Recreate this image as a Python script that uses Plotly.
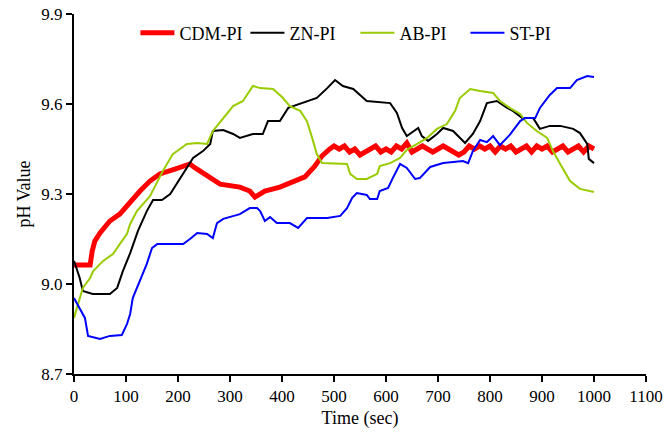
import plotly.graph_objects as go

# CDM-PI (red)
cdm_t = [0, 31, 35, 40, 50, 69, 88, 98, 113, 127, 146, 165, 194, 223, 233, 242, 262, 281, 319, 338, 348, 367, 396, 425, 444, 463, 477, 492,
         500, 510, 520, 530, 540, 550, 560, 570, 580, 590, 600, 610, 620, 630, 640, 650, 660, 670, 680, 690, 700, 710, 720, 730, 740,
         750, 760, 770, 780, 790, 800, 810, 820, 830, 840, 850, 860, 870, 880, 890, 900, 910, 920, 930, 940, 950, 960, 970, 980, 990, 1000]
cdm_v = [9.063, 9.063, 9.11, 9.143, 9.17, 9.21, 9.233, 9.253, 9.287, 9.31, 9.343, 9.367, 9.383, 9.40, 9.387, 9.377, 9.35, 9.333, 9.323, 9.31, 9.29, 9.31, 9.323, 9.343, 9.357, 9.393, 9.427, 9.45,
         9.46, 9.45, 9.46, 9.44, 9.45, 9.43, 9.44, 9.45, 9.46, 9.44, 9.45, 9.44, 9.46, 9.45, 9.47, 9.44, 9.45, 9.46, 9.45, 9.44, 9.45, 9.46, 9.45, 9.44, 9.43,
         9.44, 9.46, 9.45, 9.46, 9.45, 9.46, 9.44, 9.46, 9.45, 9.46, 9.44, 9.45, 9.46, 9.44, 9.46, 9.45, 9.46, 9.44, 9.45, 9.46, 9.44, 9.45, 9.46, 9.44, 9.46, 9.45]

# ZN-PI (black)
zn_t = [0, 11, 17, 36, 69, 83, 94, 108, 123, 140, 152, 169, 185, 204, 229, 248, 262, 267, 287, 306, 319, 344, 363, 373, 396, 412, 435, 467, 487, 502,
        517, 537, 563, 608, 621, 631, 640, 662, 669, 681, 698, 710, 729, 742, 752, 767, 781, 794, 813, 833, 844, 862, 883, 896, 915, 935, 960, 973, 987, 990, 1000]
zn_v = [9.077, 9.02, 8.977, 8.967, 8.967, 8.987, 9.043, 9.103, 9.177, 9.243, 9.28, 9.28, 9.30, 9.353, 9.42, 9.443, 9.467, 9.51, 9.513, 9.50, 9.487, 9.50, 9.50, 9.543, 9.543, 9.587, 9.60, 9.62, 9.653, 9.68,
        9.66, 9.65, 9.61, 9.603, 9.57, 9.52, 9.493, 9.52, 9.493, 9.477, 9.50, 9.52, 9.51, 9.487, 9.47, 9.50, 9.543, 9.603, 9.61, 9.587, 9.577, 9.553, 9.553, 9.517, 9.527, 9.527, 9.517, 9.503, 9.467, 9.417, 9.403]

# AB-PI (yellow-green)
ab_t = [0, 6, 17, 31, 37, 56, 75, 88, 102, 108, 121, 146, 171, 190, 217, 237, 256, 267, 287, 306, 325, 338, 344, 358, 383, 402, 415, 435, 448, 458, 467, 477,
        525, 531, 544, 563, 583, 588, 608, 627, 640, 660, 679, 698, 717, 733, 742, 762, 781, 806, 819, 838, 858, 871, 890, 910, 921, 935, 954, 973, 1000]
ab_v = [8.887, 8.92, 8.987, 9.02, 9.043, 9.077, 9.10, 9.133, 9.167, 9.20, 9.243, 9.293, 9.377, 9.433, 9.467, 9.47, 9.467, 9.51, 9.553, 9.593, 9.61, 9.643, 9.66, 9.653, 9.65, 9.62, 9.593, 9.577, 9.543, 9.487, 9.433, 9.403,
        9.40, 9.367, 9.35, 9.35, 9.367, 9.393, 9.403, 9.42, 9.447, 9.467, 9.487, 9.517, 9.533, 9.577, 9.62, 9.65, 9.643, 9.637, 9.61, 9.587, 9.567, 9.537, 9.51, 9.487, 9.443, 9.40, 9.343, 9.317, 9.307]

# ST-PI (blue)
st_t = [0, 11, 21, 27, 50, 69, 92, 102, 108, 113, 127, 140, 150, 160, 179, 210, 223, 237, 256, 267, 275, 287, 319, 338, 352, 358, 367, 377, 390, 415, 431, 448, 487,
        512, 525, 535, 544, 563, 569, 583, 588, 604, 613, 627, 640, 656, 665, 685, 710, 748, 758, 767, 781, 794, 806, 819, 838, 858, 867, 887, 896, 915, 929, 954, 967, 987, 1000]
st_v = [8.953, 8.92, 8.887, 8.827, 8.817, 8.827, 8.83, 8.867, 8.90, 8.953, 9.01, 9.067, 9.12, 9.133, 9.133, 9.133, 9.15, 9.17, 9.167, 9.153, 9.203, 9.217, 9.233, 9.253, 9.253, 9.243, 9.21, 9.223, 9.203, 9.203, 9.187, 9.22, 9.22,
        9.227, 9.253, 9.287, 9.303, 9.297, 9.283, 9.283, 9.31, 9.32, 9.353, 9.40, 9.387, 9.35, 9.353, 9.39, 9.403, 9.41, 9.403, 9.443, 9.48, 9.473, 9.493, 9.463, 9.497, 9.543, 9.553, 9.553, 9.587, 9.63, 9.653, 9.653, 9.68, 9.693, 9.69]

x_ticks = [0, 100, 200, 300, 400, 500, 600, 700, 800, 900, 1000, 1100]
y_ticks = [8.7, 9.0, 9.3, 9.6, 9.9]

FONT = "Liberation Serif, Times New Roman, serif"

fig = go.Figure()
fig.add_trace(go.Scatter(x=cdm_t, y=cdm_v, mode="lines", name="CDM-PI", line=dict(color="#FF0000", width=5)))
fig.add_trace(go.Scatter(x=zn_t, y=zn_v, mode="lines", name="ZN-PI", line=dict(color="#000000", width=2)))
fig.add_trace(go.Scatter(x=ab_t, y=ab_v, mode="lines", name="AB-PI", line=dict(color="#99CC00", width=2)))
fig.add_trace(go.Scatter(x=st_t, y=st_v, mode="lines", name="ST-PI", line=dict(color="#0000FF", width=2)))

fig.update_layout(
    width=667, height=434,
    margin=dict(l=74, r=21, t=14, b=60, autoexpand=False),
    paper_bgcolor="white", plot_bgcolor="white",
    font=dict(family=FONT, size=17, color="black"),
    showlegend=True,
    legend=dict(orientation="h", x=0.492, xanchor="center", y=0.947, yanchor="middle",
                font=dict(family=FONT, size=18), bgcolor="rgba(0,0,0,0)", itemwidth=34,
                entrywidth=61, entrywidthmode="pixels"),
    xaxis=dict(range=[0, 1100], tickvals=x_ticks, ticktext=[str(v) for v in x_ticks], automargin=False,
               showline=True, linecolor="black", linewidth=2, ticks="outside", ticklen=6, tickwidth=2,
               tickcolor="black", showgrid=False, zeroline=False,
               title=dict(text="Time (sec)", font=dict(family=FONT, size=18), standoff=6)),
    yaxis=dict(range=[8.7, 9.9], tickvals=y_ticks, ticktext=[f"{v:.1f}" for v in y_ticks], automargin=False,
               showline=True, linecolor="black", linewidth=2, ticks="outside", ticklen=6, tickwidth=2,
               tickcolor="black", showgrid=False, zeroline=False,
               title=dict(text="pH Value", font=dict(family=FONT, size=18), standoff=6)),
)

fig.write_html("out.html")
